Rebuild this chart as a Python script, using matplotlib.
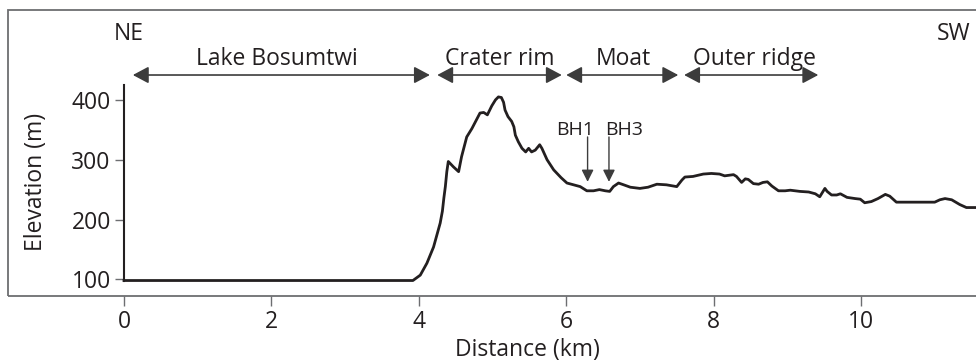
import matplotlib
matplotlib.use('Agg')
from matplotlib import pyplot as plt
from matplotlib.patches import Rectangle

plt.rcParams['font.family'] = ['Open Sans', 'DejaVu Sans']

# profile NE -> SW
dist_km = [0.0, 3.92, 4.02, 4.11, 4.20, 4.29, 4.32, 4.34, 4.36, 4.38, 4.40, 4.47,
           4.54, 4.58, 4.65, 4.72, 4.83, 4.88, 4.93, 4.99, 5.04, 5.08, 5.12, 5.15,
           5.17, 5.21, 5.26, 5.29, 5.31, 5.35, 5.40, 5.45, 5.49, 5.53, 5.58, 5.64,
           5.67, 5.74, 5.83, 5.93, 6.01, 6.10, 6.19, 6.28, 6.37, 6.45, 6.53, 6.59,
           6.64, 6.71, 6.78, 6.87, 7.00, 7.11, 7.23, 7.36, 7.50, 7.57, 7.61, 7.72,
           7.86, 7.97, 8.08, 8.15, 8.27, 8.31, 8.38, 8.43, 8.47, 8.54, 8.61, 8.67,
           8.73, 8.79, 8.88, 8.97, 9.04, 9.17, 9.29, 9.38, 9.44, 9.51, 9.54, 9.60,
           9.67, 9.72, 9.81, 9.92, 9.99, 10.05, 10.14, 10.23, 10.33, 10.39, 10.48,
           10.62, 11.00, 11.07, 11.14, 11.23, 11.34, 11.43, 11.60]
elev_m = [98, 98, 107, 127, 154, 194, 214, 236, 255, 280, 297, 288,
          280, 305, 338, 352, 378, 379, 375, 390, 400, 405, 404, 396,
          383, 372, 364, 355, 341, 330, 319, 313, 319, 313, 316, 325,
          319, 300, 283, 270, 261, 258, 255, 248, 248, 250, 248, 247,
          255, 261, 258, 254, 252, 254, 259, 258, 255, 266, 271, 272,
          276, 277, 276, 273, 275, 272, 262, 268, 267, 260, 259, 262,
          263, 256, 248, 248, 249, 247, 246, 243, 238, 252, 247, 241,
          241, 243, 237, 235, 234, 228, 230, 235, 242, 239, 229,
          229, 229, 233, 235, 233, 225, 220, 220]

x_ticks = [0, 2, 4, 6, 8, 10]
y_ticks = [100, 200, 300, 400]

zone_names = ['Lake Bosumtwi', 'Crater rim', 'Moat', 'Outer ridge']
zone_start = [0.12, 4.25, 6.00, 7.60]
zone_end = [4.15, 5.94, 7.52, 9.42]
zone_label_x = [2.08, 5.10, 6.77, 8.55]

bh_names = ['BH1', 'BH3']
bh_km = [6.29, 6.58]
bh_label_x = [6.12, 6.78]

ink = '#231f20'
frame = '#6d6e71'
fs = 16.5

W, H = 976, 363
fig = plt.figure(figsize=(W / 100, H / 100), dpi=100)
# axes box spans the gray frame; right edge runs off the figure
ax = fig.add_axes([8 / W, (H - 296) / H, (990 - 8) / W, (296 - 10) / H])
ax.set_xlim(-1.574, 11.75)
ax.set_ylim(72.1, 550.3)

ax.plot(dist_km, elev_m, color=ink, lw=2.0, solid_joinstyle='round')

for sp in ['top', 'right', 'bottom']:
    ax.spines[sp].set_visible(False)
ax.add_patch(Rectangle((0, 0), 1, 1, transform=ax.transAxes, fill=False,
                       edgecolor=frame, lw=1.3, clip_on=False))
ax.spines['left'].set_position(('data', 0))
ax.spines['left'].set_bounds(97.7, 425)
ax.spines['left'].set_color(ink)
ax.spines['left'].set_linewidth(1.5)

ax.set_xticks(x_ticks)
ax.set_yticks(y_ticks)
ax.tick_params(axis='x', direction='out', length=7, width=1, color=frame,
               labelsize=fs, labelcolor=ink, pad=3)
ax.tick_params(axis='y', direction='out', length=6.5, width=1, color=frame,
               labelsize=fs, labelcolor=ink, pad=3)

fig.text(527 / W, 1 - 350 / H, 'Distance (km)', ha='center', va='center',
         fontsize=fs, color=ink)
fig.text(36 / W, 1 - 182 / H, 'Elevation (m)', ha='center', va='center',
         rotation=90, fontsize=fs, color=ink)

# compass labels
ax.text(0.07, 500, 'NE', ha='center', va='baseline', fontsize=fs, color=ink)
ax.text(11.26, 500, 'SW', ha='center', va='baseline', fontsize=fs, color=ink)

for name, x0, x1, xl in zip(zone_names, zone_start, zone_end, zone_label_x):
    ax.annotate('', xy=(x1, 441.6), xytext=(x0, 441.6),
                arrowprops=dict(arrowstyle='<|-|>,head_length=0.6,head_width=0.32',
                                color='#3c3c3c', lw=1.2, shrinkA=0, shrinkB=0,
                                mutation_scale=16))
    ax.text(xl, 458, name, ha='center', va='baseline', fontsize=fs, color=ink)

for name, xb, xl in zip(bh_names, bh_km, bh_label_x):
    ax.annotate('', xy=(xb, 263), xytext=(xb, 338),
                arrowprops=dict(arrowstyle='-|>,head_length=0.6,head_width=0.3',
                                color='#3c3c3c', lw=1.0, shrinkA=0, shrinkB=0,
                                mutation_scale=12))
    ax.text(xl, 341, name, ha='center', va='baseline', fontsize=14, color=ink)

fig.savefig('out.png', dpi=100)
